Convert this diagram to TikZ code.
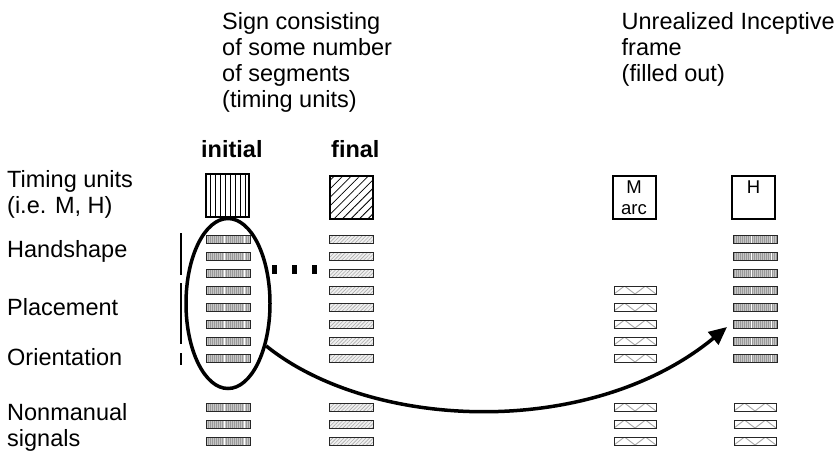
\documentclass[tikz,border=0pt]{standalone}
\usepackage{fontspec}
\setmainfont{Liberation Sans}
\usetikzlibrary{shapes.geometric,arrows.meta,patterns.meta}
\begin{document}
\begin{tikzpicture}[x=1pt,y=-1pt,
  lbl/.style={font=\fontsize{23.5}{26}\selectfont, inner sep=0pt, align=left},
  hdr/.style={font=\fontsize{23.5}{26}\selectfont\bfseries, inner sep=0pt},
  boxtxt/.style={font=\fontsize{18.5}{21}\selectfont},
  barbase/.style={draw=black!85, line width=1pt, minimum width=44pt, minimum height=8pt, inner sep=0pt, outer sep=0pt},
  ibar/.style={barbase, preaction={fill=gray!45}, pattern={Lines[angle=90,distance=2pt,line width=0.7pt]}, pattern color=gray!80,
    path picture={\foreach \f in {0.42,0.88}{\draw[white,line width=1.2pt] ([xshift=\f*44pt]path picture bounding box.south west) -- ([xshift=\f*44pt]path picture bounding box.north west);}}},
  fbar/.style={barbase, preaction={fill=gray!12}, pattern={Lines[angle=45,distance=2.6pt,line width=0.6pt]}, pattern color=gray!65},
  zbar/.style={barbase, minimum width=42pt, fill=white,
    path picture={\draw[gray!70,line width=0.9pt] (path picture bounding box.south west) -- ++(10.5pt,8pt) -- ++(10.5pt,-8pt) -- ++(10.5pt,8pt) -- ++(10.5pt,-8pt);}},
  tbox/.style={draw=black, line width=2pt, minimum size=43pt, inner sep=0pt, fill=white},
  ivsq/.style={tbox, pattern={Lines[angle=90,distance=5pt,line width=1pt]}, pattern color=black},
  fnsq/.style={tbox, pattern={Lines[angle=45,distance=6pt,line width=0.8pt]}, pattern color=black},
  thick line/.style={line width=3.5pt}
]
\useasboundingbox (0,0) rectangle (840,451);

% headings
\node[lbl, anchor=north west] (signtxt) at (222,12) {Sign consisting\\of some number\\of segments\\(timing units)};
\node[lbl, anchor=north west] (unrtxt) at (621.5,12.5) {Unrealized Inceptive\\frame\\(filled out)};
\node[hdr, anchor=base west] (initial) at (201,157) {initial};
\node[hdr, anchor=base west] (final) at (331,157) {final};

% row labels
\node[lbl, anchor=north west] (ltiming) at (7,170) {Timing units\\(i.e. M, H)};
\node[lbl, anchor=base west] (lhand) at (7,257) {Handshape};
\node[lbl, anchor=base west] (lplace) at (7,315) {Placement};
\node[lbl, anchor=base west] (lorient) at (7,365) {Orientation};
\node[lbl, anchor=north west] (lnonman) at (7,403) {Nonmanual\\signals};

% timing unit squares
\node[ivsq] (isq) at (227,195) {};
\node[fnsq] (fsq) at (351.5,197) {};
\node[tbox, boxtxt, align=center] (msq) at (634,197.5) {M\\arc};
\node[tbox, boxtxt, text depth=21pt] (hsq) at (753.5,197.5) {H};

% bars
\foreach \r/\y in {1/239,2/256,3/273,4/290,5/307,6/324,7/341,8/358}{
  \node[ibar] (i\r) at (228,\y) {};
  \node[fbar] (f\r) at (351,\y) {};
  \node[ibar] (h\r) at (755,\y) {};
}
\foreach \r/\y in {4/290,5/307,6/324,7/341,8/358}{
  \node[zbar] (m\r) at (635,\y) {};
}
\foreach \r/\y in {1/407,2/424,3/441}{
  \node[ibar] (in\r) at (228,\y) {};
  \node[fbar] (fn\r) at (351,\y) {};
  \node[zbar] (mn\r) at (635,\y) {};
  \node[zbar] (hn\r) at (755,\y) {};
}

% left vertical tier lines
\draw[line width=2pt] (181,233) -- (181,275);
\draw[line width=2pt] (181,283) -- (181,344);
\draw[line width=2pt] (181,353) -- (181,365);

% dots
\draw[line width=9pt, dash pattern=on 5pt off 15pt] (272,269.5) -- (317,269.5);

% ellipse
\node[draw, thick line, ellipse, minimum width=84pt, minimum height=170pt, inner sep=0pt] (ell) at (228,303.5) {};

% arrow
\coordinate (hend) at (727,327);
\draw[thick line, -{Triangle[length=18pt,width=16pt]}] (ell.-48) .. controls (370,430) and (590,440) .. (hend);
\end{tikzpicture}
\end{document}
